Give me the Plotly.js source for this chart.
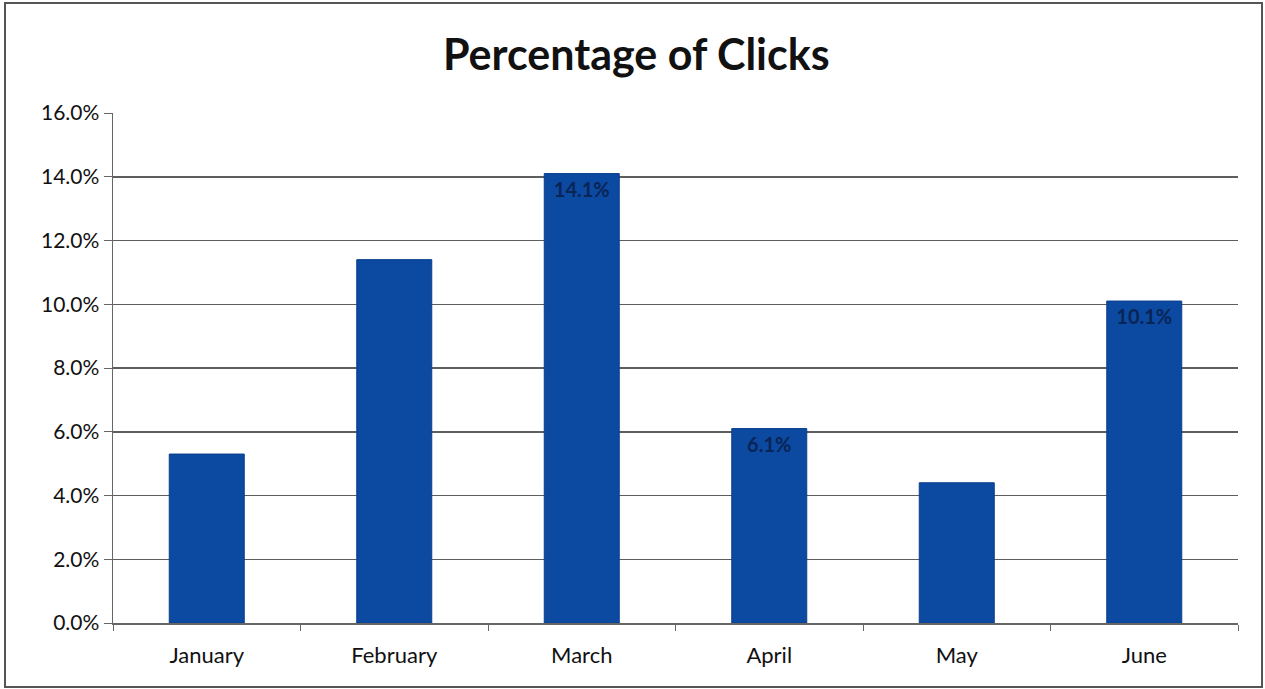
<!DOCTYPE html>
<html>
<head>
<meta charset="utf-8">
<script src="https://cdn.plot.ly/plotly-3.0.1.min.js"></script>
<style>
  html, body { margin: 0; padding: 0; background: #ffffff; }
  #wrap { position: relative; width: 1265px; height: 689px; }
  #chart { width: 1265px; height: 689px; }
  #frame { position: absolute; left: 4px; top: 2px; width: 1255px; height: 682px;
           border: 2px solid #555; pointer-events: none; }
</style>
</head>
<body>
<div id="wrap">
  <div id="chart"></div>
  <div id="frame"></div>
</div>
<script>
const months = ['January', 'February', 'March', 'April', 'May', 'June'];
const clickPct = [5.3, 11.4, 14.1, 6.1, 4.4, 10.1];
const dataLabels = ['', '', '14.1%', '6.1%', '', '10.1%'];

const trace = {
  type: 'bar',
  x: months,
  y: clickPct,
  text: dataLabels,
  textposition: 'inside',
  insidetextanchor: 'end',
  textangle: 0,
  textfont: { family: 'Lato, "Open Sans", sans-serif', size: 20, color: '#0a2456', weight: 'bold' },
  marker: { color: '#0b4aa0', line: { color: '#0a3f8c', width: 1 } },
  hoverinfo: 'x+y'
};

const layout = {
  width: 1265,
  height: 689,
  margin: { l: 113, r: 27, t: 113, b: 66 },
  paper_bgcolor: '#ffffff',
  plot_bgcolor: '#ffffff',
  bargap: 0.6,
  showlegend: false,
  title: {
    text: '<b>Percentage of Clicks</b>',
    font: { family: 'Lato, "Open Sans", sans-serif', size: 43, color: '#111111' },
    x: 0.503, xanchor: 'center', y: 0.92, yanchor: 'middle'
  },
  xaxis: {
    type: 'category',
    showgrid: false,
    showline: true,
    linecolor: '#666666',
    linewidth: 1.5,
    ticks: 'outside',
    tickson: 'boundaries',
    ticklen: 6,
    tickcolor: '#666666',
    ticklabelstandoff: 12,
    tickfont: { family: 'Lato, "Open Sans", sans-serif', size: 22, color: '#111111' },
    zeroline: false
  },
  yaxis: {
    range: [0, 16],
    dtick: 2,
    tickformat: '.1f',
    ticksuffix: '%',
    showgrid: true,
    gridcolor: '#5e5e5e',
    gridwidth: 1.5,
    showline: true,
    linecolor: '#666666',
    linewidth: 1.5,
    ticks: 'outside',
    ticklen: 8,
    tickcolor: '#666666',
    tickfont: { family: 'Lato, "Open Sans", sans-serif', size: 21, color: '#111111' },
    zeroline: false
  }
};

Plotly.newPlot('chart', [trace], layout, { displayModeBar: false, staticPlot: true });
</script>
</body>
</html>
